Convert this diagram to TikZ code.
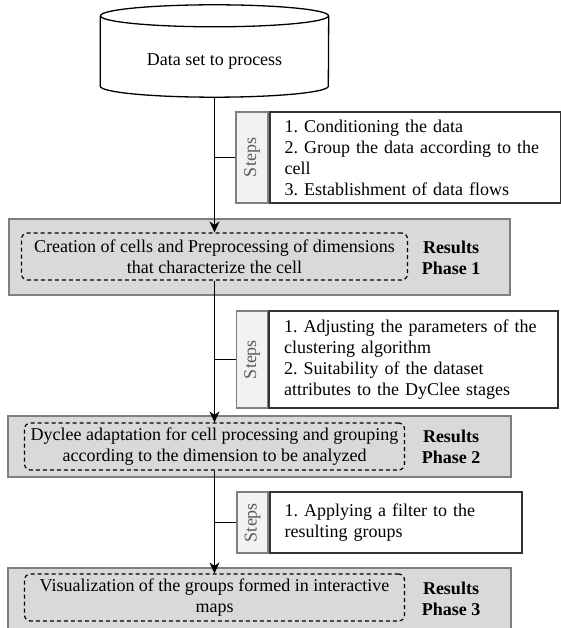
\documentclass[tikz,border=0pt]{standalone}
\usepackage{fontspec}
\setmainfont{Liberation Serif}
\usetikzlibrary{arrows.meta,calc}
\definecolor{resfill}{HTML}{D9D9D9}
\definecolor{resdraw}{HTML}{7F7F7F}
\definecolor{colfill}{HTML}{F2F2F2}
\definecolor{steptext}{HTML}{595959}
\definecolor{stepdraw}{HTML}{333333}
\frenchspacing
\begin{document}
\begin{tikzpicture}[x=1pt,y=-1pt,
  every node/.style={font=\fontsize{18}{21}\selectfont},
  cyl/.style={draw=black, line width=1.3pt, fill=white},
  resultbox/.style={draw=resdraw, line width=1.8pt, fill=resfill, inner sep=0pt},
  innerbox/.style={draw=black, line width=1.2pt, dash pattern=on 4pt off 3pt, rounded corners=6pt, align=center, inner sep=0pt},
  reslabel/.style={font=\bfseries\fontsize{18}{21}\selectfont, align=center, inner sep=0pt},
  stepcol/.style={draw=resdraw, line width=1.4pt, fill=colfill, inner sep=0pt},
  steplabel/.style={rotate=90, text=steptext, inner sep=0pt},
  steptxt/.style={draw=stepdraw, line width=1.8pt, fill=white, align=left, inner xsep=15pt, inner ysep=0pt, anchor=west},
  flow/.style={line width=1.6pt, -{Stealth[length=11pt,width=10pt,inset=3.5pt]}},
  tie/.style={line width=1.6pt}]
\useasboundingbox (0,0) rectangle (560,628);

% database cylinder
\node[minimum width=228pt, minimum height=70pt, inner sep=0pt] (db) at (214.5,62) {};
\fill[white] ($(db.north west)+(0,-11)$) rectangle (db.south east);
\draw[cyl] ($(db.north west)+(0,-11)$) -- ($(db.south west)+(0,-11)$)
   arc[start angle=180, end angle=360, x radius=114pt, y radius=11pt]
   -- ($(db.north east)+(0,-11)$);
\draw[cyl] ($(db.north)+(0,-11)$) ellipse [x radius=114pt, y radius=11pt];
\node[inner sep=0pt] (dbtxt) at (db.center) {Data set to process};

% result boxes
\node[resultbox, minimum width=501pt, minimum height=76pt] (r1) at (259.5,257) {};
\node[resultbox, minimum width=503pt, minimum height=61pt] (r2) at (259.5,446.5) {};
\node[resultbox, minimum width=503pt, minimum height=62pt] (r3) at (259.5,599) {};

\node[innerbox, minimum width=386pt, minimum height=47pt] (d1) at (214.5,256.5)
  {Creation of cells and Preprocessing of dimensions\\that characterize the cell};
\node[innerbox, minimum width=380pt, minimum height=47pt] (d2) at (214.5,446.5)
  {Dyclee adaptation for cell processing and grouping\\according to the dimension to be analyzed};
\node[innerbox, minimum width=380pt, minimum height=47pt] (d3) at (214.5,597.5)
  {Visualization of the groups formed in interactive\\maps};

\node[reslabel] (rl1) at (451,258) {Results\\Phase 1};
\node[reslabel] (rl2) at (451,446.5) {Results\\Phase 2};
\node[reslabel] (rl3) at (451,599) {Results\\Phase 3};

% steps boxes
\node[stepcol, minimum width=32pt, minimum height=91pt] (sc1) at (252,157.5) {};
\node[steptxt, text width=261pt, minimum height=91pt] (st1) at (sc1.east)
  {1. Conditioning the data\\2. Group the data according to the\\cell\\3. Establishment of data flows};
\node[steplabel] (sl1) at (sc1.center) {Steps};

\node[stepcol, minimum width=31pt, minimum height=97pt] (sc2) at (252,359.5) {};
\node[steptxt, text width=259pt, minimum height=97pt] (st2) at (sc2.east)
  {1. Adjusting the parameters of the\\clustering algorithm\\2. Suitability of the dataset\\attributes to the DyClee stages};
\node[steplabel] (sl2) at (sc2.center) {Steps};

\node[stepcol, minimum width=31pt, minimum height=61pt] (sc3) at (252.5,522.5) {};
\node[steptxt, text width=222pt, minimum height=61pt] (st3) at (sc3.east)
  {1. Applying a filter to the\\resulting groups};
\node[steplabel] (sl3) at (sc3.center) {Steps};

% connectors
\draw[flow] (db.south) -- (d1.north);
\draw[flow] (d1.south) -- (d2.north);
\draw[flow] (d2.south) -- (d3.north);
\draw[tie] (sc1.west) -- (sc1.west -| db.south);
\draw[tie] (sc2.west) -- (sc2.west -| d1.south);
\draw[tie] (sc3.west) -- (sc3.west -| d2.south);
\end{tikzpicture}
\end{document}
